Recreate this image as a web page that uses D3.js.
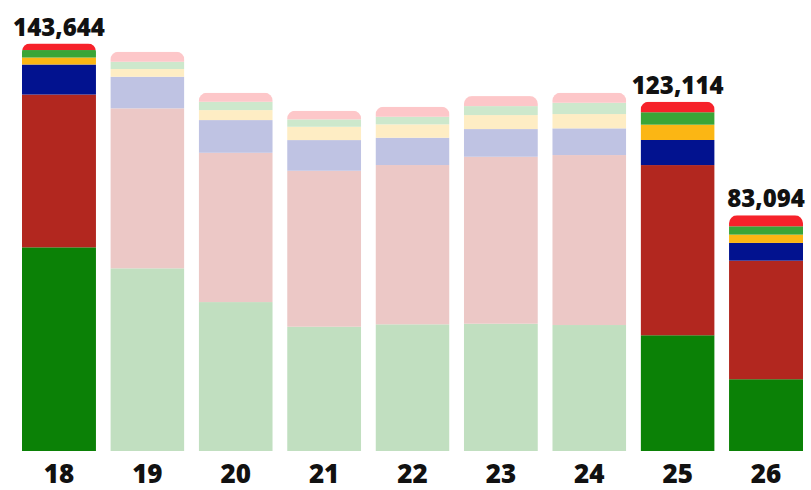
<!DOCTYPE html>
<html>
<head>
<meta charset="utf-8">
<script src="https://cdn.jsdelivr.net/npm/d3@7"></script>
<style>
  html, body { margin: 0; padding: 0; background: #ffffff; }
  svg { display: block; }
  text { font-family: "Open Sans", "DejaVu Sans", sans-serif; font-weight: 800; fill: #111; }
</style>
</head>
<body>
<svg id="chart" width="811" height="490"></svg>
<script>
// ---- data ----
const categories = ["18", "19", "20", "21", "22", "23", "24", "25", "26"];
const highlighted = ["18", "25", "26"];
const seriesNames = ["s1", "s2", "s3", "s4", "s5", "s6"]; // bottom to top
const s1 = [71800, 64400, 52500, 43800, 44660, 44870, 44410, 40800, 25300];
const s2 = [53860, 56400, 52630, 54990, 56150, 58860, 59920, 60000, 41800];
const s3 = [10580, 11140, 11530, 10820, 9620, 9760, 9410, 8840, 6250];
const s4 = [2470, 2710, 3520, 4690, 4720, 4930, 5040, 5400, 2930];
const s5 = [2640, 2570, 2930, 2610, 2680, 3170, 3980, 4380, 2930];
const s6 = [2294, 3520, 3170, 3030, 3520, 3520, 3520, 3694, 3884];
const seriesColors = ["#0b8106", "#b2271f", "#02128f", "#fbb614", "#3aa537", "#f6222a"];
const totalLabels = { "18": "143,644", "25": "123,114", "26": "83,094" };

// ---- build table ----
const seriesValues = [s1, s2, s3, s4, s5, s6];
const rows = categories.map((c, i) => {
  const r = { cat: c };
  seriesNames.forEach((s, j) => r[s] = seriesValues[j][i]);
  return r;
});

const svg = d3.select("#chart");
const x = d3.scaleBand().domain(categories).range([22, 803]).paddingInner(0.163).paddingOuter(0);
const y = d3.scaleLinear().domain([0, 150000]).range([451, 25.5]);

const stack = d3.stack().keys(seriesNames);
const stacked = stack(rows);
const totals = rows.map(r => d3.sum(seriesNames, k => r[k]));

const radius = 8;
const defs = svg.append("defs");
categories.forEach((c, i) => {
  const x0 = x(c), w = x.bandwidth(), top = y(totals[i]), bot = y(0);
  const p = d3.path();
  p.moveTo(x0, bot);
  p.lineTo(x0, top + radius);
  p.arcTo(x0, top, x0 + radius, top, radius);
  p.lineTo(x0 + w - radius, top);
  p.arcTo(x0 + w, top, x0 + w, top + radius, radius);
  p.lineTo(x0 + w, bot);
  p.closePath();
  defs.append("clipPath").attr("id", "clip" + c).append("path").attr("d", p.toString());
});

const bars = svg.append("g").selectAll("g.bar")
  .data(categories)
  .join("g")
  .attr("class", "bar")
  .attr("clip-path", c => `url(#clip${c})`)
  .attr("opacity", c => highlighted.includes(c) ? 1 : 0.25);

bars.each(function(c, i) {
  const g = d3.select(this);
  stacked.forEach((layer, j) => {
    const d = layer[i];
    g.append("rect")
      .attr("x", x(c))
      .attr("width", x.bandwidth())
      .attr("y", y(d[1]))
      .attr("height", y(d[0]) - y(d[1]))
      .attr("fill", seriesColors[j]);
  });
});

// total labels
svg.append("g").selectAll("text")
  .data(categories.filter(c => totalLabels[c]))
  .join("text")
  .attr("x", c => x(c) + x.bandwidth() / 2)
  .attr("y", c => y(totals[categories.indexOf(c)]) - 8)
  .attr("text-anchor", "middle")
  .attr("font-size", 24)
  .text(c => totalLabels[c]);

// x axis labels
const xAxis = d3.axisBottom(x).tickSize(0).tickPadding(0);
const ax = svg.append("g").attr("transform", "translate(0,451)").call(xAxis);
ax.select(".domain").remove();
ax.selectAll("text")
  .attr("dy", null)
  .attr("y", 32)
  .attr("font-size", 26)
  .attr("font-family", "\"Open Sans\", sans-serif")
  .attr("font-weight", 800)
  .attr("fill", "#111");
</script>
</body>
</html>
